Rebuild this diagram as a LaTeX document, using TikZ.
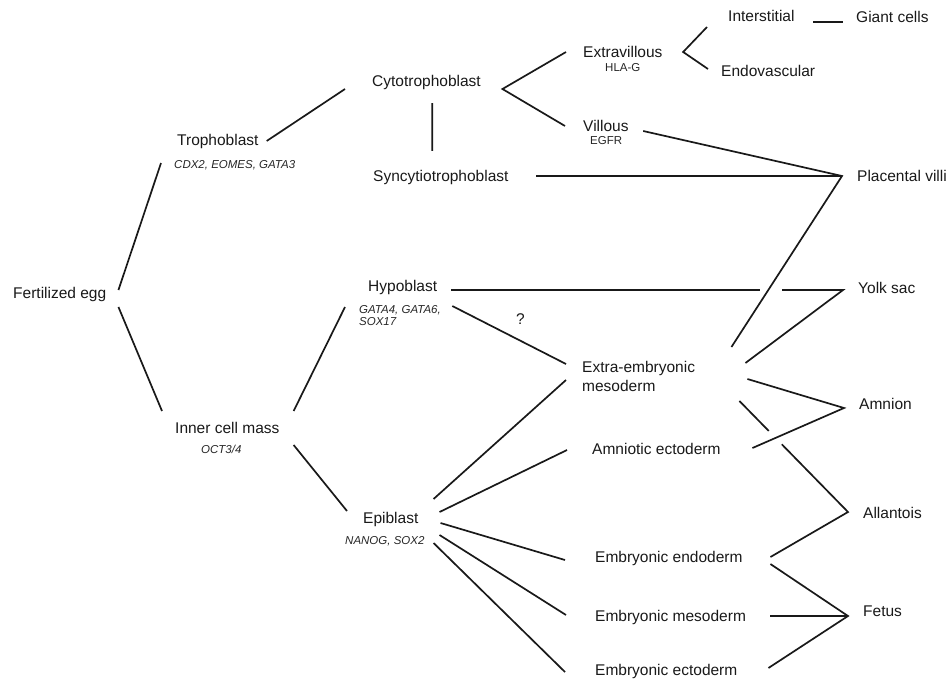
\documentclass[tikz,border=0pt]{standalone}
\usepackage{fontspec}
\setmainfont{Liberation Sans}
\usetikzlibrary{calc}
\tikzset{font=\fontsize{15.5}{19}\selectfont}
\tikzset{cell/.style={anchor=west, inner sep=0pt, text height=11pt, text depth=0pt, text=black!90}}
\tikzset{gene/.style={anchor=west, inner sep=0pt, text=black!85, font=\fontsize{11.5}{12}\selectfont\itshape}}
\tikzset{protein/.style={gene, font=\fontsize{11.5}{12}\selectfont}}
\tikzset{link/.style={line width=1.7pt, black!90}}

\begin{document}
\begin{tikzpicture}[x=1pt,y=-1pt]
\useasboundingbox (0,0) rectangle (949,681);
% cells and markers
\node[cell] (egg) at (13,293) {Fertilized egg};
\node[cell] (tropho) at (177,140) {Trophoblast};
\node[gene] (trophoG) at (174,165) {CDX2, EOMES, GATA3};
\node[cell] (icm) at (175,428) {Inner cell mass};
\node[gene] (icmG) at (201,449) {OCT3/4};
\node[cell] (cyto) at (372,81) {Cytotrophoblast};
\node[cell] (syncy) at (373,176) {Syncytiotrophoblast};
\node[cell] (hypo) at (368,286) {Hypoblast};
\node[gene, align=left] (hypoG) at (359,316) {GATA4, GATA6,\\SOX17};
\node[cell] (epi) at (363,518) {Epiblast};
\node[gene] (epiG) at (345,541) {NANOG, SOX2};
\node[cell] (extrav) at (583,52) {Extravillous};
\node[protein] (extravP) at (605,68) {HLA-G};
\node[cell] (villous) at (583,126) {Villous};
\node[protein] (villousP) at (590,141) {EGFR};
\node[cell] (inter) at (728,16) {Interstitial};
\node[cell] (endov) at (721,71) {Endovascular};
\node[cell] (giant) at (856,17) {Giant cells};
\node[cell] (villi) at (857,176) {Placental villi};
\node[cell] (yolk) at (858,288) {Yolk sac};
\node[anchor=west, inner sep=0pt, align=left, text=black!90] (exm) at (582,376.5) {Extra-embryonic\\mesoderm};
\node[cell] (unk) at (516,319) {?};
\node[cell] (amnio) at (592,449) {Amniotic ectoderm};
\node[cell] (amnion) at (859,404) {Amnion};
\node[cell] (allan) at (863,513) {Allantois};
\node[cell] (endo) at (595,557) {Embryonic endoderm};
\node[cell] (meso) at (595,616) {Embryonic mesoderm};
\node[cell] (ecto) at (595,670) {Embryonic ectoderm};
\node[cell] (fetus) at (863,611) {Fetus};

% lineage
\draw[link] ([shift={(12,-3)}]egg.east) -- ([shift={(-16,23)}]tropho.west);
\draw[link] ([shift={(12,14)}]egg.east) -- ([shift={(-13,-17)}]icm.west);
\draw[link] ([shift={(8,1)}]tropho.east) -- ([shift={(-27,8)}]cyto.west);
\draw[link] ([shift={(5.7,16.5)}]cyto.south) -- ([shift={(-8.6,-19.5)}]syncy.north);
\draw[link] ([shift={(-17,0)}]extrav.west) -- ([shift={(21.5,8)}]cyto.east) -- ([shift={(-18,0)}]villous.west);
\draw[link] ([shift={(-21,11)}]inter.west) -- ([shift={(20.5,0)}]extrav.east) -- ([shift={(-13,-2)}]endov.west);
\draw[link] ([shift={(18.7,6)}]inter.east) -- ([shift={(-13,5)}]giant.west);
\draw[link] ([shift={(27.7,0)}]syncy.east) -- ([shift={(-15,0)}]villi.west);
\draw[link] ([shift={(14.4,5)}]villous.east) -- ([shift={(-15,0)}]villi.west) -- ([shift={(36.2,-29.5)}]exm.east);

\draw[link] ([shift={(14,-17)}]icm.east) -- ([shift={(-23,21)}]hypo.west);
\draw[link] ([shift={(14,17)}]icm.east) -- ([shift={(-16,-7)}]epi.west);

% hypoblast to yolk sac, broken at the crossing
\coordinate (gapL) at ([shift={(-98,2)}]yolk.west);
\coordinate (gapR) at ([shift={(-76,2)}]yolk.west);
\draw[link] ([shift={(14,4)}]hypo.east) -- (gapL);
\draw[link] (gapR) -- ([shift={(-15,2)}]yolk.west) -- ([shift={(50.2,-13.5)}]exm.east);
\draw[link] ([shift={(15,20)}]hypo.east) -- ([shift={(-16,-12.5)}]exm.west);

\draw[link] ([shift={(52.2,2.5)}]exm.east) -- ([shift={(-15,4)}]amnion.west) -- ([shift={(31.7,-1)}]amnio.east);

% allantois, broken at the crossing
\coordinate (alA) at ([shift={(44.2,24.5)}]exm.east);
\coordinate (alB) at ([shift={(-15,-1)}]allan.west);
\draw[link] (alA) -- ($(alA)!0.27!(alB)$);
\draw[link] ($(alA)!0.39!(alB)$) -- (alB) -- ([shift={(27.7,0)}]endo.east);

\draw[link] ([shift={(27.7,7)}]endo.east) -- ([shift={(-15,5)}]fetus.west) -- ([shift={(30.9,-2)}]ecto.east);
\draw[link] ([shift={(24.3,0)}]meso.east) -- ([shift={(-15,5)}]fetus.west);

% epiblast fan
\draw[link] ([shift={(15,-19)}]epi.east) -- ([shift={(-16,3.5)}]exm.west);
\draw[link] ([shift={(21,-6)}]epi.east) -- ([shift={(-25,1)}]amnio.west);
\draw[link] ([shift={(22,5)}]epi.east) -- ([shift={(-30,3)}]endo.west);
\draw[link] ([shift={(21,17)}]epi.east) -- ([shift={(-29,-1)}]meso.west);
\draw[link] ([shift={(15,25)}]epi.east) -- ([shift={(-30,2)}]ecto.west);
\end{tikzpicture}
\end{document}
